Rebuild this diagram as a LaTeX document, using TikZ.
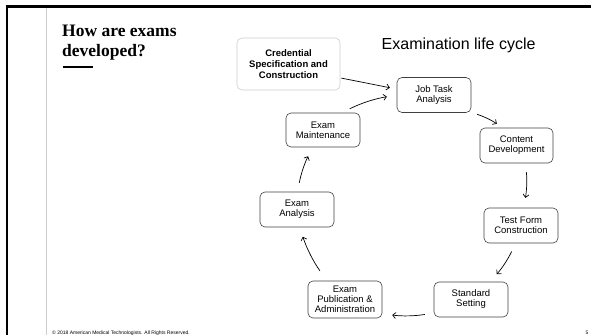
\documentclass[tikz,border=0pt]{standalone}
\usepackage{fontspec}
\setmainfont{Liberation Serif}
\setsansfont{Liberation Sans}
\usetikzlibrary{arrows.meta}

\begin{document}
\begin{tikzpicture}[x=1pt,y=1pt,
    box/.style={draw=black!75,line width=0.6pt,rounded corners=5pt,align=center,
        minimum width=74pt,minimum height=35pt,inner sep=1pt,
        font=\sffamily\fontsize{9.5}{10}\selectfont},
    flow/.style={-{Straight Barb[length=3pt,width=6pt]},line width=0.7pt,
        shorten <=9pt,shorten >=10pt,bend left=8}]
        \useasboundingbox (0,0) rectangle (591,335);
        % slide frame
        \draw[line width=2.2pt] (5.9,328.5)--(591,328.5);
        \draw[line width=2.2pt] (7,329.6)--(7,0);
        \draw[black!20,line width=0.6pt] (46,327.4)--(46,0);
        % title
        \node (title) at (62,310) [anchor=north west,inner sep=0,align=left,
            font=\bfseries\fontsize{17.5}{20}\selectfont] {How are exams\\developed?};
        \draw[line width=1.6pt] (63,268)--(93,268);
        \node (heading) at (381.5,285.7) [anchor=base west,inner sep=0,
            font=\sffamily\fontsize{16}{18}\selectfont] {Examination life cycle};
        % life cycle steps
        \node (cred) at (288.5,271) [box,draw=black!20,minimum width=103pt,minimum height=52pt,
            font=\sffamily\bfseries\fontsize{9.5}{11}\selectfont] {Credential\\Specification and\\Construction};
        \node (jta) at (434,240) [box] {Job Task\\Analysis};
        \node (cont) at (516.5,189.5) [box,minimum width=73pt] {Content\\Development};
        \node (tfc) at (521,109.5) [box] {Test Form\\Construction};
        \node (std) at (471,35.5) [box] {Standard\\Setting};
        \node (pub) at (345,35.5) [box,minimum height=37pt] {Exam\\Publication \&\\Administration};
        \node (ana) at (297,125.5) [box] {Exam\\Analysis};
        \node (maint) at (323,205) [box,minimum height=34pt] {Exam\\Maintenance};
        % arrows
        \draw[flow,shorten <=1pt,shorten >=7pt,bend left=0] (cred.-15) to (jta.171);
        \draw[flow] (maint.43) to (jta.180);
        \draw[flow,shorten <=6pt,shorten >=7pt] (jta.-25) to (cont.128);
        \draw[flow] (cont.-63) to (tfc.82);
        \draw[flow] (tfc.-107) to (std.43);
        \draw[flow] (std.-160) to (pub.-21);
        \draw[flow,shorten <=12pt] (pub.134) to (ana.-82);
        \draw[flow] (ana.88) to (maint.-121);
        % footer
        \node (footer) at (52,1) [anchor=base west,inner sep=0,
            font=\sffamily\fontsize{5}{6}\selectfont] {\textcopyright{} 2018 American Medical Technologists. All Rights Reserved.};
        \node (pagenum) at (585.5,1) [anchor=base west,inner sep=0,
            font=\sffamily\fontsize{5}{6}\selectfont] {5};
    \end{tikzpicture}
\end{document}
